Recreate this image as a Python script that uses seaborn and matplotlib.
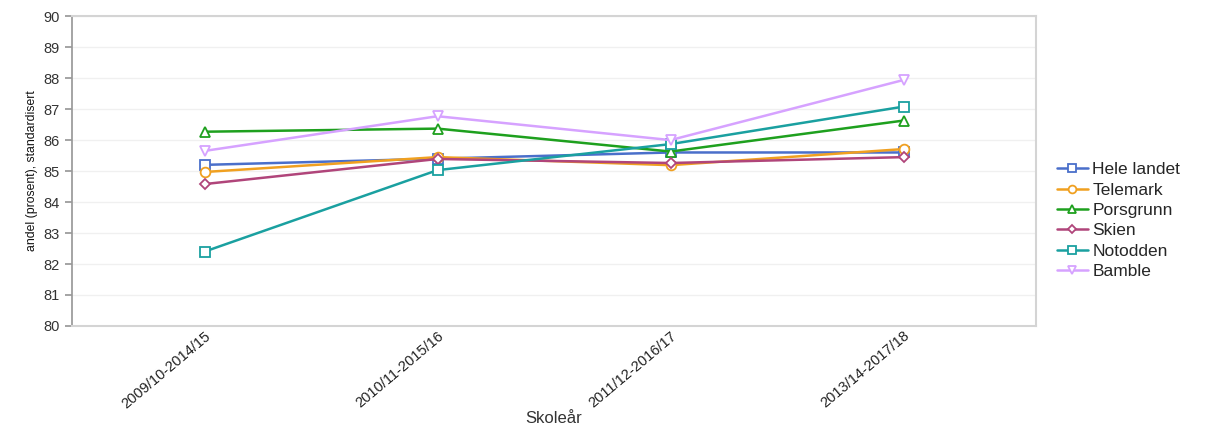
import seaborn as sns
import matplotlib.pyplot as plt
import pandas as pd

# data
skoleaar = ["2009/10-2014/15", "2010/11-2015/16", "2011/12-2016/17", "2013/14-2017/18"]
hele_landet = [85.2, 85.4, 85.6, 85.6]
telemark = [84.97, 85.45, 85.19, 85.71]
porsgrunn = [86.27, 86.37, 85.63, 86.63]
skien = [84.58, 85.39, 85.26, 85.45]
notodden = [82.4, 85.03, 85.87, 87.08]
bamble = [85.65, 86.77, 86.0, 87.94]

series = ["Hele landet", "Telemark", "Porsgrunn", "Skien", "Notodden", "Bamble"]
colors = ["#4a6fca", "#f0a020", "#1ea01e", "#b0457a", "#1aa0a0", "#d6a2ff"]
markers = ["s", "o", "^", "D", "s", "v"]

rows = []
for name, vals in zip(series, [hele_landet, telemark, porsgrunn, skien, notodden, bamble]):
    for i, v in enumerate(vals):
        rows.append({"Skoleår": i, "verdi": v, "serie": name})
df = pd.DataFrame(rows)

sns.set_theme(style="white")
plt.rcParams["font.family"] = ["Liberation Sans", "DejaVu Sans"]

fig = plt.figure(figsize=(12.15, 4.25), dpi=100)
ax = fig.add_axes([0.059, 0.233, 0.794, 0.729])

for name, col, m in zip(series, colors, markers):
    d = df[df["serie"] == name]
    ms = 5 if m == "D" else 7
    sns.lineplot(data=d, x="Skoleår", y="verdi", ax=ax, color=col, marker=m,
                 markersize=ms, markerfacecolor="white", markeredgecolor=col,
                 markeredgewidth=1.3, linewidth=1.8, label=name)

ax.set_xlim(-0.57, 3.57)
ax.set_ylim(80, 90)
ax.set_yticks(range(80, 91))
ax.set_xticks(range(4))
ax.set_xticklabels(skoleaar, rotation=40, ha="right", rotation_mode="anchor",
                   fontsize=10.5, color="#222222")
ax.tick_params(axis="y", labelsize=10.5, colors="#333333", length=5, color="#999999", left=True)
ax.tick_params(axis="x", length=0, pad=2)
ax.grid(axis="y", color="#f0f0f0", linewidth=1)
for s in ["top", "right", "bottom"]:
    ax.spines[s].set_color("#d4d4d4")
    ax.spines[s].set_linewidth(1.5)
ax.spines["left"].set_color("#999999")
ax.set_xlabel("Skoleår", fontsize=12, color="#333333", labelpad=0)
ax.set_ylabel("andel (prosent), standardisert", fontsize=8.8, color="#111111")

leg = ax.legend(loc="center left", bbox_to_anchor=(1.005, 0.34), frameon=False,
                fontsize=12.5, handlelength=1.8, handletextpad=0.25, labelspacing=0.3,
                markerscale=0.8)
plt.savefig("out.png", dpi=100)
